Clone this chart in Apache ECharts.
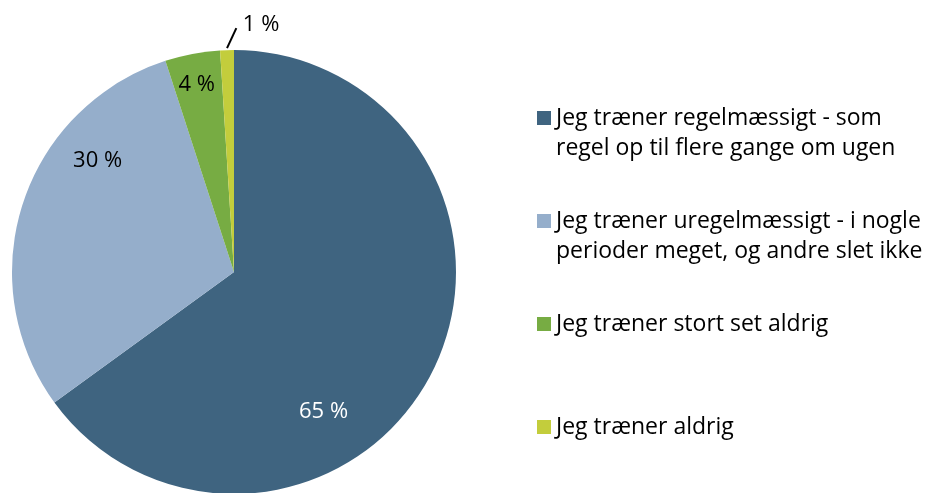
<!DOCTYPE html>
<html>
<head>
<meta charset="utf-8">
<script src="https://cdn.jsdelivr.net/npm/echarts@6/dist/echarts.min.js"></script>
<style>
html,body{margin:0;padding:0;background:#fff;}
#chart{width:936px;height:493px;}
</style>
</head>
<body>
<div id="chart"></div>
<script>
const categories = [
  "Jeg træner regelmæssigt - som\nregel op til flere gange om ugen",
  "Jeg træner uregelmæssigt - i nogle\nperioder meget, og andre slet ikke",
  "Jeg træner stort set aldrig",
  "Jeg træner aldrig"
];
const values = [65, 30, 4, 1];
const colors = ["#3F6480", "#95AECB", "#77AC43", "#C3CD3C"];
const labelColors = ["#ffffff", "#000000", "#000000", "#000000"];

const FONT = "'Open Sans', sans-serif";

const data = categories.map((name, i) => {
  const item = {
    name: name,
    value: values[i],
    itemStyle: { color: colors[i] },
    label: { color: labelColors[i] }
  };
  if (i === 3) {
    item.label = { position: 'outside', color: labelColors[i] };
    item.labelLine = { show: true, length: 22, length2: 0, lineStyle: { color: '#000', width: 2 } };
  }
  return item;
});

const labelShift = [[-12, 88], [-28, -76], [-16, -75], [58, -3]];

const chart = echarts.init(document.getElementById('chart'));
chart.setOption({
  animation: false,
  backgroundColor: '#ffffff',
  legend: {
    orient: 'vertical',
    left: 537,
    top: 73,
    padding: 0,
    itemWidth: 14,
    itemHeight: 14,
    itemGap: 13,
    icon: 'rect',
    selectedMode: false,
    formatter: function (name) {
      return '\n' + name + (name.indexOf('\n') >= 0 ? '' : '\n');
    },
    textStyle: { fontFamily: FONT, fontSize: 23, color: '#000', lineHeight: 30 },
    data: categories
  },
  series: [{
    type: 'pie',
    center: [234, 272],
    radius: 222,
    startAngle: 90,
    clockwise: true,
    avoidLabelOverlap: false,
    label: {
      show: true,
      position: 'inside',
      formatter: '{c} %',
      fontFamily: FONT,
      fontSize: 22
    },
    labelLine: { show: false },
    labelLayout: function (params) {
      const s = labelShift[params.dataIndex];
      const out = { dx: s[0], dy: s[1] };
      const p = params.labelLinePoints;
      if (params.dataIndex === 3 && p) {
        out.labelLinePoints = [
          [p[0][0], p[0][1] - 2],
          [p[1][0] + 10, p[1][1]],
          [p[2][0] + 10, p[2][1]]
        ];
      }
      return out;
    },
    itemStyle: { borderWidth: 0 },
    emphasis: { disabled: true },
    data: data
  }]
});
</script>
</body>
</html>
